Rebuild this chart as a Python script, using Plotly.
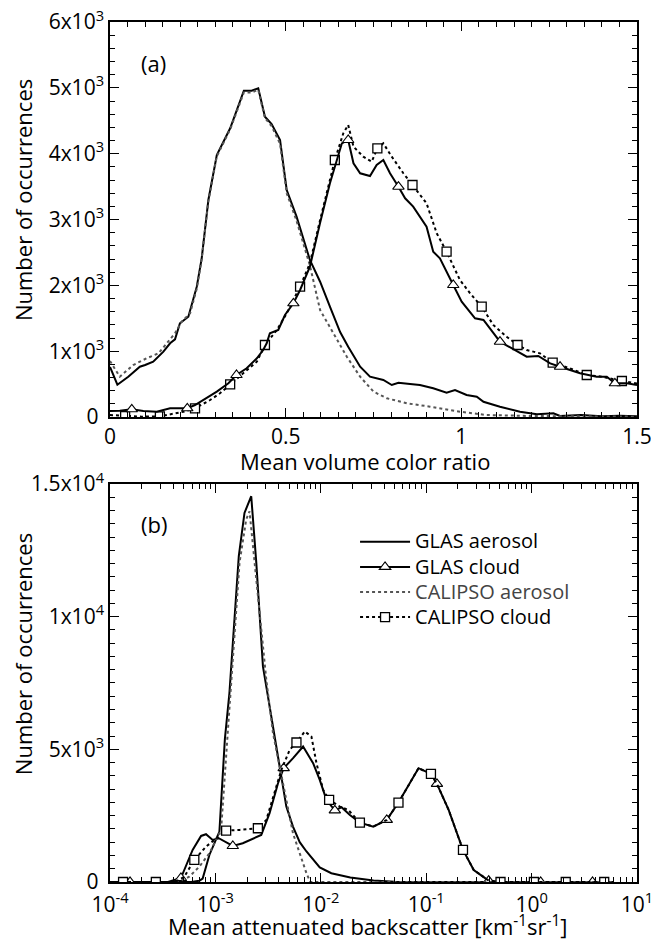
import plotly.graph_objects as go

# ---------------- Panel (a): mean volume color ratio ----------------
a_glas_aer_x = [0, 0.021, 0.052, 0.085, 0.1, 0.123, 0.152, 0.171, 0.185, 0.199, 0.223, 0.247, 0.261, 0.28, 0.304,
                0.342, 0.381, 0.403, 0.422, 0.441, 0.46, 0.484, 0.503, 0.531, 0.569, 0.598, 0.626, 0.655, 0.678,
                0.712, 0.74, 0.778, 0.802, 0.821, 0.854, 0.882, 0.92, 0.958, 0.982, 1.015, 1.044, 1.063, 1.11,
                1.167, 1.215, 1.262, 1.281, 1.34, 1.40, 1.45, 1.5]
a_glas_aer_y = [760, 490, 612, 764, 790, 840, 992, 1120, 1180, 1423, 1524, 1980, 2410, 3296, 3980,
                4385, 4957, 4957, 4993, 4562, 4451, 4208, 3448, 3043, 2385, 2055, 1675, 1290, 1068,
                764, 612, 562, 486, 521, 501, 486, 436, 369, 410, 334, 308, 232, 156,
                81, 41, 56, 15, 30, 10, 20, 10]

a_cal_aer_x = [0, 0.028, 0.066, 0.104, 0.138, 0.171, 0.185, 0.204, 0.228, 0.247, 0.261, 0.28, 0.304, 0.342,
               0.381, 0.403, 0.422, 0.441, 0.46, 0.484, 0.503, 0.531, 0.569, 0.598, 0.636, 0.674, 0.712, 0.75,
               0.788, 0.845, 0.911, 0.996, 1.072, 1.2, 1.35, 1.5]
a_cal_aer_y = [850, 612, 790, 891, 967, 1170, 1271, 1448, 1575, 1950, 2400, 3280, 3960, 4370,
               4930, 4930, 4970, 4540, 4420, 4150, 3400, 2980, 2300, 1625, 1271, 916, 612, 385,
               284, 208, 157, 81, 30, 15, 10, 5]

a_glas_cld_x = [0, 0.028, 0.062, 0.095, 0.133, 0.171, 0.19, 0.22, 0.242, 0.275, 0.304, 0.337, 0.36, 0.389,
                0.418, 0.436, 0.446, 0.455, 0.479, 0.498, 0.522, 0.541, 0.569, 0.598, 0.626, 0.66, 0.678,
                0.693, 0.712, 0.74, 0.759, 0.778, 0.797, 0.821, 0.84, 0.863, 0.901, 0.92, 0.939, 0.977,
                1.001, 1.039, 1.063, 1.11, 1.158, 1.186, 1.219, 1.253, 1.281, 1.338, 1.385, 1.414, 1.437,
                1.471, 1.5]
a_glas_cld_y = [90, 96, 117, 90, 80, 132, 132, 132, 182, 284, 385, 512, 638, 740,
                891, 1018, 1120, 1271, 1322, 1549, 1727, 1929, 2283, 2950, 3550, 4157, 4208,
                3854, 3702, 3661, 3828, 3904, 3702, 3498, 3322, 3195, 2891, 2511, 2410, 2005,
                1752, 1499, 1474, 1144, 992, 916, 927, 815, 764, 664, 612, 612, 512,
                512, 486]
a_glas_cld_marks = [0.062, 0.22, 0.36, 0.522, 0.678, 0.821, 0.977, 1.11, 1.281, 1.437]

a_cal_cld_x = [0, 0.043, 0.09, 0.142, 0.18, 0.209, 0.242, 0.285, 0.313, 0.342, 0.379, 0.418, 0.441, 0.475,
               0.503, 0.541, 0.569, 0.598, 0.626, 0.64, 0.664, 0.678, 0.693, 0.721, 0.745, 0.761, 0.778,
               0.802, 0.835, 0.861, 0.901, 0.93, 0.958, 0.996, 1.025, 1.058, 1.091, 1.129, 1.16, 1.186,
               1.224, 1.26, 1.309, 1.357, 1.40, 1.457, 1.5]
a_cal_cld_y = [30, 15, 5, 10, 56, 80, 132, 258, 360, 497, 664, 840, 1094, 1322,
               1575, 1980, 2335, 2992, 3600, 3904, 4309, 4436, 4106, 3954, 3878, 4081, 4157,
               3954, 3702, 3524, 3246, 2790, 2511, 2081, 1879, 1676, 1398, 1220, 1094, 1018,
               967, 825, 739, 638, 612, 547, 510]
a_cal_cld_marks = [0.043, 0.142, 0.242, 0.342, 0.441, 0.541, 0.64, 0.761, 0.861, 0.958, 1.058, 1.16,
                   1.26, 1.357, 1.457]

a_xticks = [0, 0.5, 1, 1.5]
a_xticklabels = ["0", "0.5", "1", "1.5"]
a_yticks = [0, 1000, 2000, 3000, 4000, 5000, 6000]
a_yticklabels = ["0&nbsp;", "1x10<sup>3</sup>", "2x10<sup>3</sup>", "3x10<sup>3</sup>", "4x10<sup>3</sup>",
                 "5x10<sup>3</sup>", "6x10<sup>3</sup>"]

# ---------------- Panel (b): mean attenuated backscatter (log10 of km-1 sr-1) ----------------
b_glas_aer_log = [-4, -3.5, -3.23, -3.152, -3.121, -3.057, -2.962, -2.91, -2.867, -2.778, -2.724, -2.66,
                  -2.612, -2.549, -2.502, -2.438, -2.384, -2.327, -2.264, -2.2, -2.136, -2.01, -1.9, -1.72,
                  -1.5, -1.3, -1.1, -0.5, 0, 0.78]
b_glas_aer_y = [0, 0, 0, 50, 130, 1019, 1900, 5400, 7120, 12280, 13910, 14540,
                12030, 8125, 6990, 5484, 4100, 2843, 2088, 1500, 1150, 550, 330, 170,
                60, 10, 0, 0, 0, 0]

b_cal_aer_log = [-4, -3.35, -3.248, -3.152, -3.057, -2.978, -2.946, -2.883, -2.771, -2.708, -2.676, -2.612,
                 -2.517, -2.454, -2.36, -2.264, -2.136, -2.1, -1.0, 0.78]
b_cal_aer_y = [0, 0, 200, 580, 1082, 1710, 1962, 5620, 12040, 13660, 13970, 11400,
               7620, 5620, 3700, 1836, 328, 0, 0, 0]

b_glas_cld_log = [-4, -3.81, -3.45, -3.327, -3.216, -3.136, -3.089, -3.026, -2.968, -2.835, -2.74, -2.565,
                  -2.486, -2.406, -2.352, -2.263, -2.168, -2.073, -2.01, -1.946, -1.867, -1.803, -1.724,
                  -1.629, -1.502, -1.374, -1.263, -1.073, -0.955, -0.898, -0.787, -0.708, -0.651, -0.549,
                  -0.407, -0.295, 0.086, 0.578, 0.78]
b_glas_cld_y = [0, 0, 0, 150, 1208, 1736, 1800, 1585, 1650, 1358, 1460, 1774,
                2592, 3724, 4290, 4667, 5106, 4478, 3849, 3094, 2700, 2817, 2528,
                2239, 2088, 2340, 2994, 4290, 4075, 3698, 2717, 1836, 1208, 453,
                50, 0, 0, 0, 0]
b_glas_cld_marks = [-3.81, -3.327, -2.835, -2.352, -1.867, -1.374, -0.898, -0.407, 0.086, 0.578]

b_cal_cld_log = [-4, -3.876, -3.565, -3.38, -3.295, -3.2, -3.089, -2.898, -2.771, -2.597, -2.517, -2.438,
                 -2.374, -2.295, -2.231, -2.152, -2.089, -2.041, -1.978, -1.921, -1.819, -1.74, -1.629,
                 -1.502, -1.374, -1.263, -1.073, -0.955, -0.898, -0.787, -0.708, -0.651, -0.549, -0.407,
                 -0.295, 0.022, 0.324, 0.689, 0.78]
b_cal_cld_y = [0, 0, 0, 0, 200, 830, 1333, 1937, 1962, 2025, 2340, 3346,
               4226, 4981, 5257, 5673, 5484, 4478, 3472, 3094, 2843, 2717, 2239,
               2088, 2340, 2994, 4290, 4075, 3698, 2717, 1836, 1208, 453, 50,
               0, 0, 0, 0, 0]
b_cal_cld_marks = [-3.876, -3.565, -3.2, -2.898, -2.597, -2.231, -1.921, -1.629, -1.263, -0.955, -0.651,
                   -0.295, 0.022, 0.324, 0.689]

b_xticks = [1e-4, 1e-3, 1e-2, 1e-1, 1e0, 1e1]
b_xticklabels = ["10<sup>-4</sup>", "10<sup>-3</sup>", "10<sup>-2</sup>", "10<sup>-1</sup>",
                 "10<sup>0</sup>", "10<sup>1</sup>"]
b_yticks = [0, 5000, 10000, 15000]
b_yticklabels = ["0&nbsp;", "5x10<sup>3</sup>", "1x10<sup>4</sup>", "1.5x10<sup>4</sup>"]

legend_names = ["GLAS aerosol", "GLAS cloud", "CALIPSO aerosol", "CALIPSO cloud"]

# ---------------- styles ----------------
FONT = "Open Sans, Noto Sans, DejaVu Sans, sans-serif"
BLACK = "#000000"
GRAY = "#555555"
LW = 2
DOT = "3px,3px"


def tolin(logs):
    return [10 ** v for v in logs]


def idx(xs, marks):
    return [xs.index(m) for m in marks]


def lname(s, color=BLACK):
    return '<span style="font-size:20px;color:%s">%s</span>' % (color, s)


# minor tick positions (axis decoration only)
a_x_minor = [round(i * 0.05, 4) for i in range(31)]
a_y_minor = [i * 200 for i in range(31)]
b_x_minor = [k * 10 ** d for d in range(-4, 1) for k in range(2, 10)]
b_y_minor = [i * 500 for i in range(31)]

fig = go.Figure()
nohover = dict(hoverinfo="skip")
sel = dict(selected=dict(marker=dict(opacity=1)), unselected=dict(marker=dict(opacity=0)))
tri = dict(symbol="triangle-up", size=10, color="white", line=dict(color=BLACK, width=1.1))
sq = dict(symbol="square", size=9, color="white", line=dict(color=BLACK, width=1.3))

# panel (a)
fig.add_trace(go.Scatter(x=a_glas_aer_x, y=a_glas_aer_y, mode="lines", xaxis="x", yaxis="y",
                         line=dict(color=BLACK, width=LW), showlegend=False, **nohover))
fig.add_trace(go.Scatter(x=a_cal_aer_x, y=a_cal_aer_y, mode="lines", xaxis="x", yaxis="y",
                         line=dict(color=GRAY, width=LW, dash=DOT), showlegend=False, **nohover))
fig.add_trace(go.Scatter(x=a_cal_cld_x, y=a_cal_cld_y, mode="lines+markers", xaxis="x", yaxis="y",
                         line=dict(color=BLACK, width=LW, dash=DOT), marker=sq,
                         selectedpoints=idx(a_cal_cld_x, a_cal_cld_marks), showlegend=False, **sel, **nohover))
fig.add_trace(go.Scatter(x=a_glas_cld_x, y=a_glas_cld_y, mode="lines+markers", xaxis="x", yaxis="y",
                         line=dict(color=BLACK, width=LW), marker=tri,
                         selectedpoints=idx(a_glas_cld_x, a_glas_cld_marks), showlegend=False, **sel, **nohover))

# panel (b)
fig.add_trace(go.Scatter(x=tolin(b_glas_aer_log), y=b_glas_aer_y, mode="lines", xaxis="x2", yaxis="y2",
                         name=lname(legend_names[0]), line=dict(color=BLACK, width=LW), **nohover))
fig.add_trace(go.Scatter(x=tolin(b_glas_cld_log), y=b_glas_cld_y, mode="lines+markers", xaxis="x2", yaxis="y2",
                         name=lname(legend_names[1]), line=dict(color=BLACK, width=LW), marker=tri,
                         selectedpoints=idx(b_glas_cld_log, b_glas_cld_marks), **sel, **nohover))
fig.add_trace(go.Scatter(x=tolin(b_cal_aer_log), y=b_cal_aer_y, mode="lines", xaxis="x2", yaxis="y2",
                         name=lname(legend_names[2], "#444444"),
                         line=dict(color=GRAY, width=LW, dash=DOT), **nohover))
fig.add_trace(go.Scatter(x=tolin(b_cal_cld_log), y=b_cal_cld_y, mode="lines+markers", xaxis="x2", yaxis="y2",
                         name=lname(legend_names[3]), line=dict(color=BLACK, width=LW, dash=DOT), marker=sq,
                         selectedpoints=idx(b_cal_cld_log, b_cal_cld_marks), **sel, **nohover))

axis_common = dict(showline=True, linecolor=BLACK, linewidth=1.5, mirror="ticks", ticks="inside",
                   ticklen=9, tickwidth=1.2, tickcolor=BLACK, showgrid=False, zeroline=False,
                   tickfont=dict(family=FONT, size=21, color=BLACK), ticklabeloverflow="allow",
                   automargin=False)
minor_common = dict(ticks="inside", ticklen=5, tickwidth=1, tickcolor=BLACK, showgrid=False, tickmode="array")

TFONT = dict(family=FONT, size=22, color=BLACK)

fig.update_layout(
    width=651, height=941,
    margin=dict(l=110, r=14, t=22, b=59, autoexpand=False),
    paper_bgcolor="white", plot_bgcolor="white",
    font=dict(family=FONT, size=21, color=BLACK),
    xaxis=dict(domain=[0, 1], anchor="y", range=[0, 1.5], tickmode="array", tickvals=a_xticks,
               ticktext=a_xticklabels, minor=dict(tickvals=a_x_minor, **minor_common), **axis_common),
    yaxis=dict(domain=[0.5407, 1], anchor="x", range=[0, 6000], tickmode="array", tickvals=a_yticks,
               ticktext=a_yticklabels, minor=dict(tickvals=a_y_minor, **minor_common), **axis_common),
    xaxis2=dict(domain=[0, 1], anchor="y2", type="log", range=[-4, 1], tickmode="array", tickvals=b_xticks,
                ticktext=b_xticklabels, minor=dict(tickvals=b_x_minor, **minor_common),
                ticklabelstandoff=3, **axis_common),
    yaxis2=dict(domain=[0, 0.4628], anchor="x2", range=[0, 15000], tickmode="array", tickvals=b_yticks,
                ticktext=b_yticklabels, minor=dict(tickvals=b_y_minor, **minor_common), **axis_common),
    legend=dict(x=0.465, xanchor="left", y=0.416, yanchor="top", bgcolor="rgba(0,0,0,0)",
                font=dict(family=FONT, size=17, color=BLACK), itemwidth=50, tracegroupgap=0),
    annotations=[
        dict(text="(a)", xref="x domain", yref="y domain", x=0.082, y=0.896, xanchor="center",
             yanchor="middle", showarrow=False, font=TFONT),
        dict(text="(b)", xref="x2 domain", yref="y2 domain", x=0.084, y=0.9, xanchor="center",
             yanchor="middle", showarrow=False, font=TFONT),
        dict(text="Number of occurrences", xref="paper", yref="paper", x=-0.165, y=0.793, textangle=-90,
             xanchor="center", yanchor="middle", showarrow=False, font=TFONT),
        dict(text="Number of occurrences", xref="paper", yref="paper", x=-0.165, y=0.265, textangle=-90,
             xanchor="center", yanchor="middle", showarrow=False, font=TFONT),
        dict(text="Mean volume color ratio", xref="paper", yref="paper", x=0.484, y=0.4895,
             xanchor="center", yanchor="middle", showarrow=False, font=TFONT),
        dict(text="Mean attenuated backscatter [km<sup>-1</sup>sr<sup>-1</sup>]", xref="paper", yref="paper",
             x=0.4896, y=-0.051, xanchor="center", yanchor="middle", showarrow=False, font=TFONT),
    ],
)

fig.write_html("out.html")
